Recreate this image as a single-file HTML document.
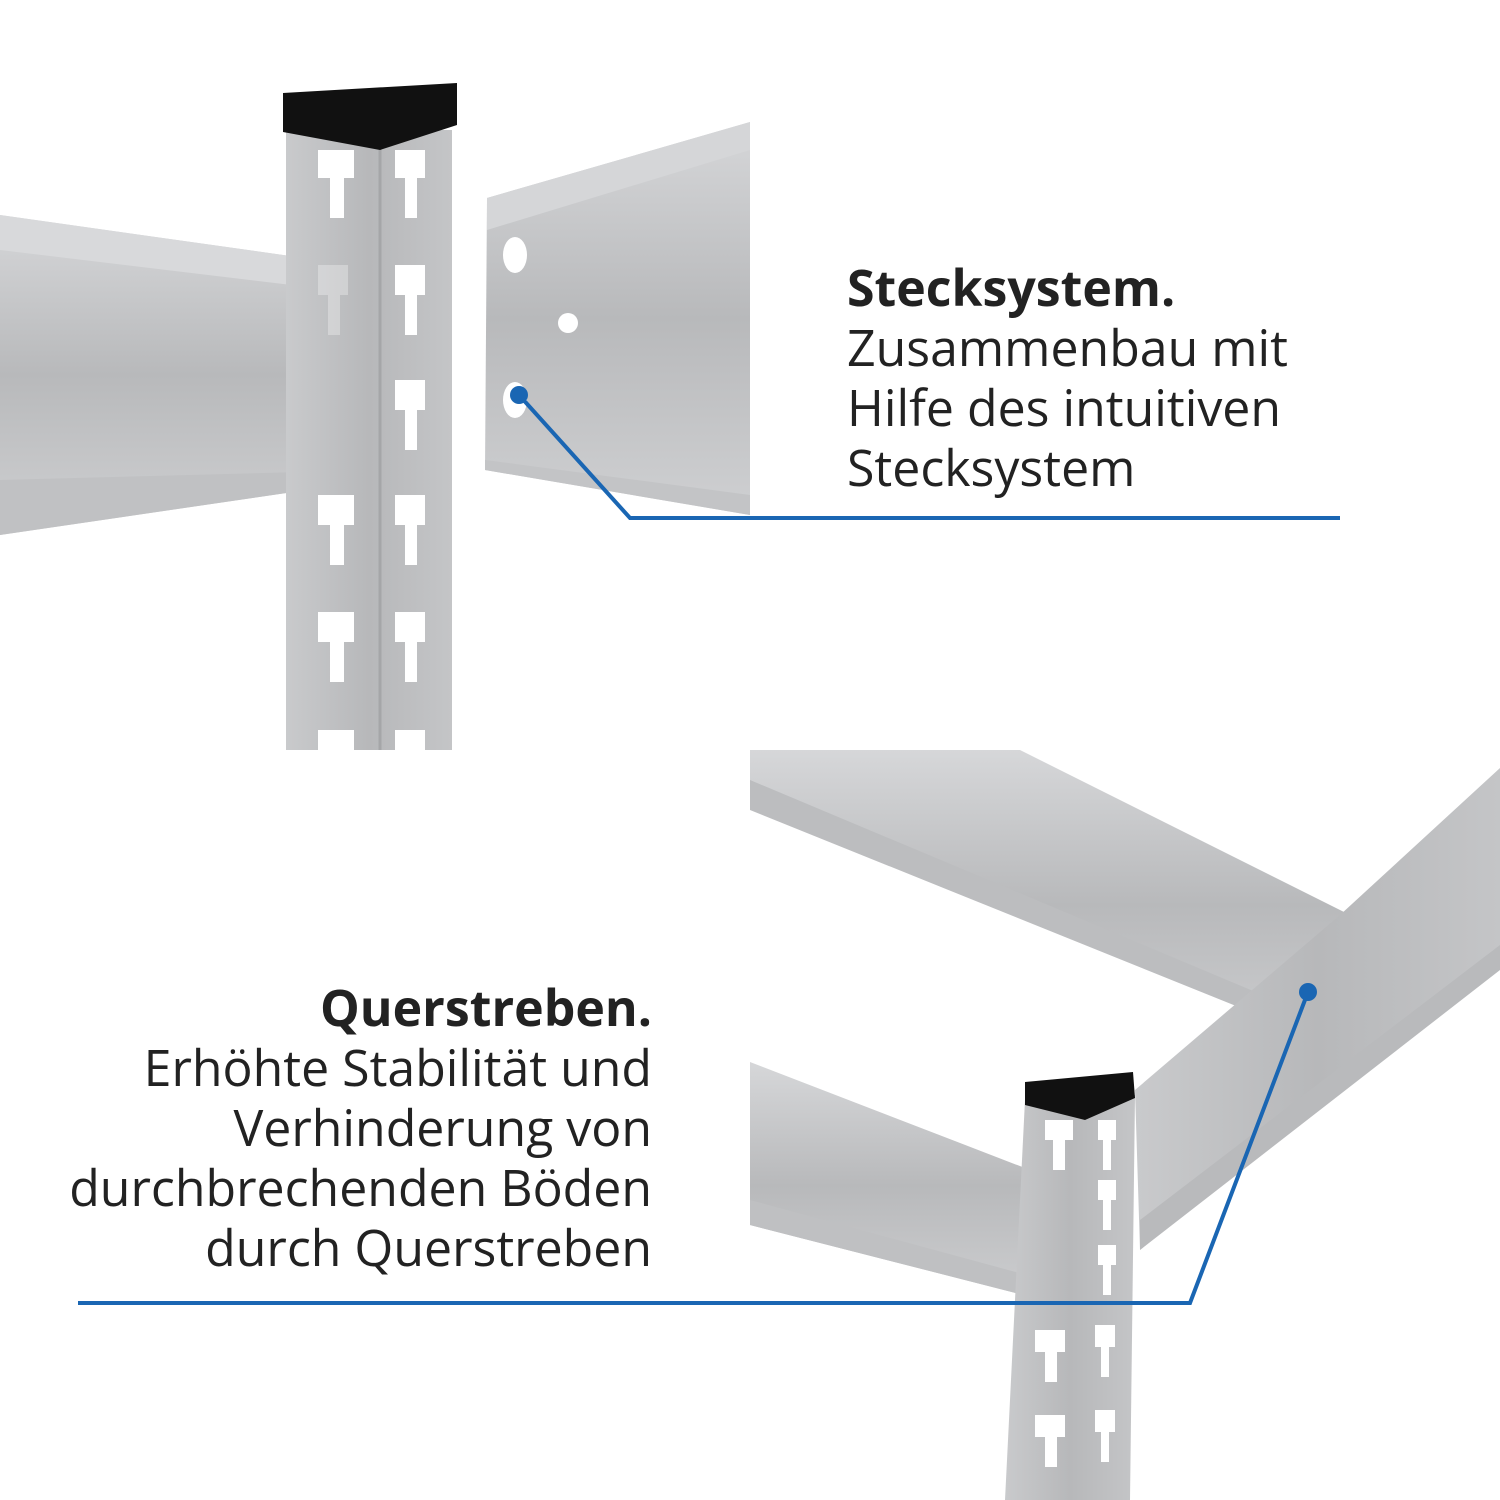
<!DOCTYPE html>
<html><head><meta charset="utf-8"><style>
html,body{margin:0;padding:0;background:#fff;}
.wrap{position:relative;width:1500px;height:1500px;overflow:hidden;}
svg{position:absolute;left:0;top:0;}
.t{position:absolute;font-family:"Open Sans","Liberation Sans",sans-serif;color:#222;font-size:50px;line-height:60px;}
.t b{font-weight:bold;}
</style></head><body><div class="wrap">
<svg width="1500" height="1500" viewBox="0 0 1500 1500">
<defs>
<linearGradient id="g1" x1="0" y1="0" x2="1" y2="0"><stop offset="0" stop-color="#c9cacc"/><stop offset="0.5" stop-color="#b7b8ba"/><stop offset="1" stop-color="#c4c5c7"/></linearGradient>
<linearGradient id="g2" x1="0" y1="0" x2="0" y2="1"><stop offset="0" stop-color="#d6d7d9"/><stop offset="0.5" stop-color="#b8b9bb"/><stop offset="1" stop-color="#cfd0d2"/></linearGradient>
</defs>
<polygon points="0,215 375,268 375,480 0,535" fill="url(#g2)"/>
<polygon points="0,215 375,268 375,295 0,250" fill="#d8d9db"/>
<polygon points="0,480 375,470 375,480 0,535" fill="#c0c1c3"/>
<rect x="286" y="130" width="166" height="620" fill="url(#g1)"/>
<line x1="380" y1="140" x2="380" y2="750" stroke="#a5a6a8" stroke-width="3"/>
<polygon points="283,93 457,83 457,125 380,150 283,132" fill="#111"/>
<g fill="#fff">
<path d="M318,150 h36 v28 h-10 v40 h-14 v-40 h-12z"/>
<path d="M395,150 h30 v28 h-8 v40 h-12 v-40 h-10z"/>
<path d="M318,265 h30 v30 h-8 v40 h-12v-40h-10z" opacity="0.3"/>
<path d="M395,265 h30 v30 h-8 v40 h-12v-40h-10z"/>
<path d="M395,380 h30 v30 h-8 v40 h-12v-40h-10z"/>
<path d="M318,495 h36 v30 h-10 v40 h-14v-40h-12z"/>
<path d="M395,495 h30 v30 h-8 v40 h-12v-40h-10z"/>
<path d="M318,612 h36 v30 h-10 v40 h-14v-40h-12z"/>
<path d="M395,612 h30 v30 h-8 v40 h-12v-40h-10z"/>
<path d="M318,730 h36 v20 h-36z"/>
<path d="M395,730 h30 v20 h-30z"/>
</g>
<polygon points="487,198 750,122 750,515 485,470" fill="url(#g2)"/>
<polygon points="487,198 750,122 750,150 487,230" fill="#d5d6d8"/>
<polygon points="485,460 750,495 750,515 485,470" fill="#c3c4c6"/>
<circle cx="568" cy="323" r="10" fill="#fff"/>
<ellipse cx="515" cy="255" rx="12" ry="18" fill="#fff"/>
<ellipse cx="515" cy="400" rx="12" ry="18" fill="#fff"/>
<polygon points="750,750 1020,750 1390,935 1370,1060 750,790" fill="url(#g2)"/>
<polygon points="750,780 1370,1040 1370,1060 750,810" fill="#bcbdbf"/>
<polygon points="1340,915 1500,768 1500,955 1140,1250 1135,1090" fill="url(#g1)"/>
<polygon points="1140,1220 1500,945 1500,970 1140,1250" fill="#b9babc"/>
<polygon points="750,1062 1082,1190 1082,1310 750,1225" fill="url(#g2)"/>
<polygon points="750,1200 1082,1290 1082,1310 750,1225" fill="#bfc0c2"/>
<polygon points="1025,1100 1135,1095 1130,1500 1005,1500" fill="url(#g1)"/>
<polygon points="1025,1082 1133,1072 1135,1098 1085,1120 1025,1105" fill="#111"/>
<g fill="#fff">
<path d="M1045,1120 h28 v20 h-8 v30 h-12 v-30 h-8z"/>
<path d="M1098,1120 h18 v20 h-5 v30 h-8v-30h-5z"/>
<path d="M1098,1180 h18 v20 h-5 v30 h-8v-30h-5z"/>
<path d="M1098,1245 h18 v20 h-5 v30 h-8v-30h-5z"/>
<path d="M1035,1330 h30 v22 h-8 v30 h-12v-30h-10z"/>
<path d="M1095,1325 h20 v22 h-6 v30 h-8v-30h-6z"/>
<path d="M1035,1415 h30 v22 h-8 v30 h-12v-30h-10z"/>
<path d="M1095,1410 h20 v22 h-6 v30 h-8v-30h-6z"/>
</g>
<g stroke="#1a66b3" stroke-width="4" fill="none">
<polyline points="519,395 630,518 1340,518"/>
<polyline points="78,1303 1190,1303 1308,992"/>
</g>
<circle cx="519" cy="395" r="9" fill="#1a66b3"/>
<circle cx="1308" cy="992" r="9" fill="#1a66b3"/>
</svg>
<div class="t" style="left:847px;top:257px;"><b>Stecksystem.</b><br>Zusammenbau mit<br>Hilfe des intuitiven<br>Stecksystem</div>
<div class="t" style="right:848px;top:977px;text-align:right;"><b>Querstreben.</b><br>Erhöhte Stabilität und<br>Verhinderung von<br>durchbrechenden Böden<br>durch Querstreben</div>
</div></body></html>
